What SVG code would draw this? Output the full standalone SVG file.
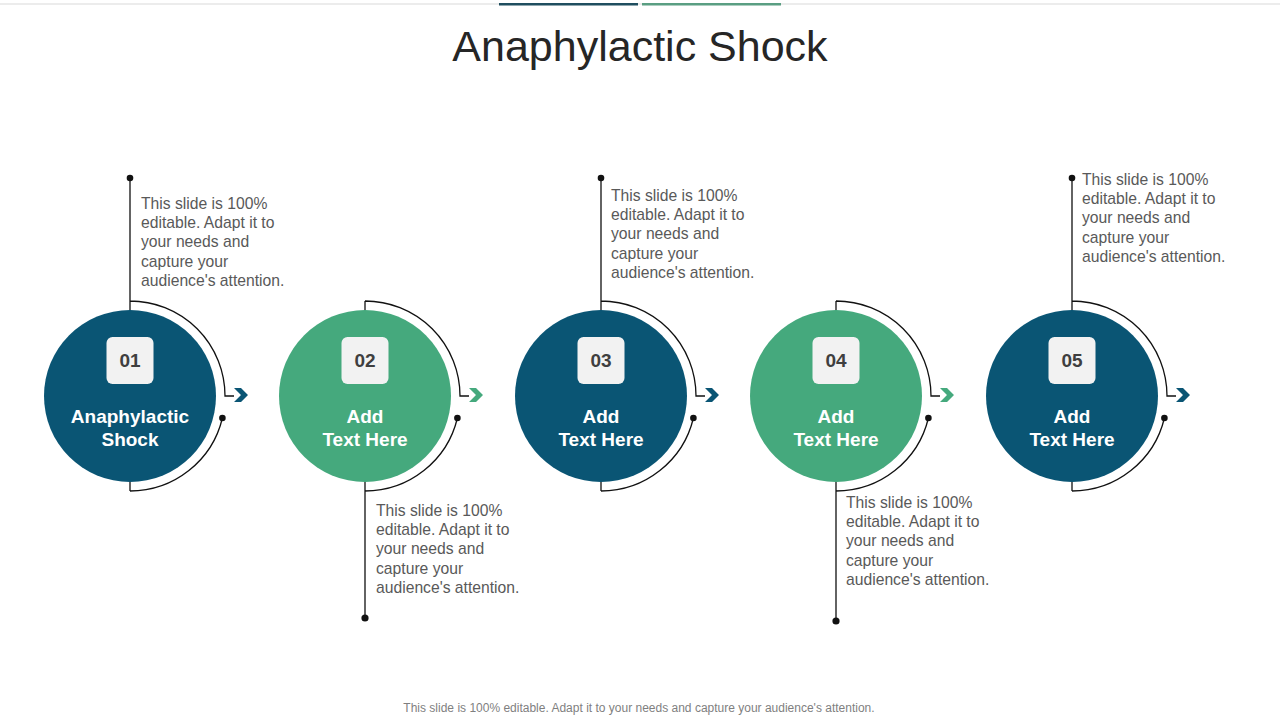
<svg xmlns="http://www.w3.org/2000/svg" width="1280" height="720" viewBox="0 0 1280 720">
<defs>
<style>
.dark{fill:#0a5574}
.green{fill:#45a97d}
.box{fill:#f2f2f2}
.num{font-family:"Liberation Sans",Arial,sans-serif;font-weight:bold;font-size:19px;fill:#3f3f3f;text-anchor:middle}
.lbl{font-family:"Liberation Sans",Arial,sans-serif;font-weight:bold;font-size:19px;fill:#ffffff;text-anchor:middle}
.desc{font-family:"Liberation Sans",Arial,sans-serif;font-size:15.7px;fill:#595959}
.ln{fill:none;stroke:#111111;stroke-width:1.3}
.dot{fill:#111111}
</style>
<g id="chev"><path d="M0,-7 H7 L14,0 L7,7 H0 L7,0 Z"/></g>
</defs>
<rect width="1280" height="720" fill="#ffffff"/>
<rect x="0" y="3" width="1280" height="2" fill="#ececec"/>
<rect x="499" y="3" width="139" height="2.5" fill="#1f4e5f"/>
<rect x="642" y="3" width="139" height="2.5" fill="#5a9e82"/>
<text x="640" y="61" text-anchor="middle" font-family="'Liberation Sans',Arial,sans-serif" font-size="43" fill="#262626">Anaphylactic Shock</text>

<g id="connectors">
<g transform="translate(130,0)">
<path class="ln" d="M0,178 V310 M0,482 V491 M0,301 A95,95 0 0 1 95,396 H104 M92.4,418 A95,95 0 0 1 0,491"/>
<circle class="dot" cx="0" cy="178" r="3.3"/><circle class="dot" cx="92.4" cy="418" r="3.3"/>
<use href="#chev" x="104" y="395" class="dark"/>
</g>
<g transform="translate(365,0)">
<path class="ln" d="M0,301 V310 M0,482 V618 M0,301 A95,95 0 0 1 95,396 H104 M92.4,418 A95,95 0 0 1 0,491"/>
<circle class="dot" cx="0" cy="618" r="3.6"/><circle class="dot" cx="92.4" cy="418" r="3.3"/>
<use href="#chev" x="104" y="395" class="green"/>
</g>
<g transform="translate(601,0)">
<path class="ln" d="M0,178 V310 M0,482 V491 M0,301 A95,95 0 0 1 95,396 H104 M92.4,418 A95,95 0 0 1 0,491"/>
<circle class="dot" cx="0" cy="178" r="3.3"/><circle class="dot" cx="92.4" cy="418" r="3.3"/>
<use href="#chev" x="104" y="395" class="dark"/>
</g>
<g transform="translate(836,0)">
<path class="ln" d="M0,301 V310 M0,482 V621 M0,301 A95,95 0 0 1 95,396 H104 M92.4,418 A95,95 0 0 1 0,491"/>
<circle class="dot" cx="0" cy="621" r="3.6"/><circle class="dot" cx="92.4" cy="418" r="3.3"/>
<use href="#chev" x="104" y="395" class="green"/>
</g>
<g transform="translate(1072,0)">
<path class="ln" d="M0,178 V310 M0,482 V491 M0,301 A95,95 0 0 1 95,396 H104 M92.4,418 A95,95 0 0 1 0,491"/>
<circle class="dot" cx="0" cy="178" r="3.3"/><circle class="dot" cx="92.4" cy="418" r="3.3"/>
<use href="#chev" x="104" y="395" class="dark"/>
</g>
</g>

<g id="node1">
<circle class="dark" cx="130" cy="396" r="86"/>
<rect class="box" x="106.5" y="337" width="47" height="47" rx="6"/>
<text class="num" x="130" y="367">01</text>
<text class="lbl" x="130" y="423">Anaphylactic</text>
<text class="lbl" x="130" y="446">Shock</text>
<text class="desc" x="141" y="209"><tspan x="141">This slide is 100%</tspan><tspan x="141" dy="19.2">editable. Adapt it to</tspan><tspan x="141" dy="19.2">your needs and</tspan><tspan x="141" dy="19.2">capture your</tspan><tspan x="141" dy="19.2">audience's attention.</tspan></text>
</g>
<g id="node2">
<circle class="green" cx="365" cy="396" r="86"/>
<rect class="box" x="341.5" y="337" width="47" height="47" rx="6"/>
<text class="num" x="365" y="367">02</text>
<text class="lbl" x="365" y="423">Add</text>
<text class="lbl" x="365" y="446">Text Here</text>
<text class="desc" x="376" y="516"><tspan x="376">This slide is 100%</tspan><tspan x="376" dy="19.2">editable. Adapt it to</tspan><tspan x="376" dy="19.2">your needs and</tspan><tspan x="376" dy="19.2">capture your</tspan><tspan x="376" dy="19.2">audience's attention.</tspan></text>
</g>
<g id="node3">
<circle class="dark" cx="601" cy="396" r="86"/>
<rect class="box" x="577.5" y="337" width="47" height="47" rx="6"/>
<text class="num" x="601" y="367">03</text>
<text class="lbl" x="601" y="423">Add</text>
<text class="lbl" x="601" y="446">Text Here</text>
<text class="desc" x="611" y="201"><tspan x="611">This slide is 100%</tspan><tspan x="611" dy="19.2">editable. Adapt it to</tspan><tspan x="611" dy="19.2">your needs and</tspan><tspan x="611" dy="19.2">capture your</tspan><tspan x="611" dy="19.2">audience's attention.</tspan></text>
</g>
<g id="node4">
<circle class="green" cx="836" cy="396" r="86"/>
<rect class="box" x="812.5" y="337" width="47" height="47" rx="6"/>
<text class="num" x="836" y="367">04</text>
<text class="lbl" x="836" y="423">Add</text>
<text class="lbl" x="836" y="446">Text Here</text>
<text class="desc" x="846" y="508"><tspan x="846">This slide is 100%</tspan><tspan x="846" dy="19.2">editable. Adapt it to</tspan><tspan x="846" dy="19.2">your needs and</tspan><tspan x="846" dy="19.2">capture your</tspan><tspan x="846" dy="19.2">audience's attention.</tspan></text>
</g>
<g id="node5">
<circle class="dark" cx="1072" cy="396" r="86"/>
<rect class="box" x="1048.5" y="337" width="47" height="47" rx="6"/>
<text class="num" x="1072" y="367">05</text>
<text class="lbl" x="1072" y="423">Add</text>
<text class="lbl" x="1072" y="446">Text Here</text>
<text class="desc" x="1082" y="185"><tspan x="1082">This slide is 100%</tspan><tspan x="1082" dy="19.2">editable. Adapt it to</tspan><tspan x="1082" dy="19.2">your needs and</tspan><tspan x="1082" dy="19.2">capture your</tspan><tspan x="1082" dy="19.2">audience's attention.</tspan></text>
</g>
<text x="639" y="712" text-anchor="middle" font-family="'Liberation Sans',Arial,sans-serif" font-size="12" fill="#7f7f7f">This slide is 100% editable. Adapt it to your needs and capture your audience's attention.</text>
</svg>
